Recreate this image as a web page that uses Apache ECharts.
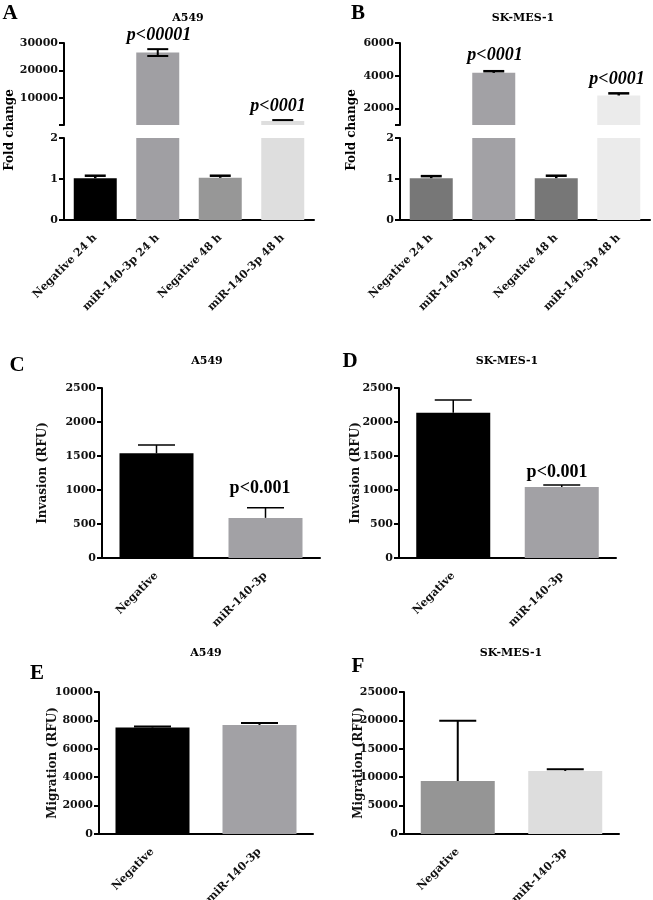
<!DOCTYPE html>
<html><head><meta charset="utf-8">
<script src="https://cdn.jsdelivr.net/npm/echarts@6/dist/echarts.min.js"></script>
<style>html,body{margin:0;padding:0;background:#fff}#c{width:653px;height:900px}</style>
</head><body><div id="c"></div>
<script>
// ---- data ----
const catsFold = ['Negative 24 h', 'miR-140-3p 24 h', 'Negative 48 h', 'miR-140-3p 48 h'];
const catsRFU = ['Negative', 'miR-140-3p'];

const foldA = [1.02, 26500, 1.03, 1500];
const foldAErrUp = [0.06, 1250, 0.05, 300];
const foldAErrDown = [0, 1250, 0, 0];

const foldB = [1.02, 4180, 1.02, 2800];
const foldBErrUp = [0.05, 100, 0.06, 130];
const foldBErrDown = [0, 0, 0, 0];

const invA = [1540, 590];
const invAErr = [120, 150];
const invB = [2135, 1045];
const invBErr = [190, 30];

const migA = [7500, 7680];
const migAErr = [70, 140];
const migB = [9330, 11100];
const migBErr = [10600, 300];

const pA = ['p<00001', 'p<0001'];
const pB = ['p<0001', 'p<0001'];
const pInv = 'p<0.001';

const upperATicks = [0, 10000, 20000, 30000];
const upperALabels = [10000, 20000, 30000];
const upperBTicks = [1000, 2000, 4000, 6000];
const upperBLabels = [2000, 4000, 6000];

// ---- styles ----
const colA = ['#000000', '#a09fa3', '#979797', '#dedede'];
const colB = ['#777777', '#a2a1a5', '#777777', '#ebebeb'];
const colInv = ['#000000', '#a2a1a5'];
const colMigA = ['#000000', '#a2a1a5'];
const colMigB = ['#959595', '#dddddd'];

const SPACED = '"DejaVu Serif", serif';
const TIMES = '"Liberation Serif", "Times New Roman", serif';
const INK = '#111';

const grids = [
  {left: 64, top: 43, width: 250, height: 82},   // 0 A upper
  {left: 64, top: 138, width: 250, height: 82},  // 1 A lower
  {left: 400, top: 43, width: 250, height: 82},  // 2 B upper
  {left: 400, top: 138, width: 250, height: 82}, // 3 B lower
  {left: 102, top: 388, width: 218, height: 170},// 4 C
  {left: 399, top: 388, width: 217, height: 170},// 5 D
  {left: 99, top: 692, width: 214, height: 142}, // 6 E
  {left: 404, top: 692, width: 215, height: 142} // 7 F
].map(g => Object.assign(g, {outerBoundsMode: 'none', containLabel: false}));

function xAx(gi, cats, show) {
  return {
    type: 'category', gridIndex: gi, data: cats, show: show,
    axisLine: {lineStyle: {color: '#000', width: 2}},
    axisTick: {alignWithLabel: true, length: 5, lineStyle: {color: '#000', width: 2}},
    axisLabel: {rotate: 45, interval: 0, margin: 16, fontFamily: SPACED, fontWeight: 'bold', fontSize: 11, color: INK}
  };
}
function yAx(gi, min, max, interval, extra) {
  const o = {
    type: 'value', gridIndex: gi, min: min, max: max, interval: interval,
    nameMoveOverlap: false,
    axisLine: {show: true, lineStyle: {color: '#000', width: 2}},
    axisTick: {show: true, length: 5, lineStyle: {color: '#000', width: 2}},
    splitLine: {show: false},
    axisLabel: {margin: 6, fontFamily: SPACED, fontWeight: 'bold', fontSize: 11, color: INK, formatter: v => String(v)}
  };
  return Object.assign(o, extra || {});
}
function bars(gi, vals, cols, bw) {
  return {
    type: 'bar', xAxisIndex: gi, yAxisIndex: gi, barWidth: bw, silent: true, clip: true,
    data: vals.map((v, i) => ({value: v, itemStyle: {color: cols[i]}}))
  };
}
function errs(gi, vals, up, down, lo, hi, capW, lw) {
  const data = [];
  vals.forEach((v, i) => { if (v > lo && v <= hi) data.push([i, v, up[i], down[i]]); });
  return {
    type: 'custom', xAxisIndex: gi, yAxisIndex: gi, silent: true, z: 5,
    encode: {x: 0, y: 1},
    data: data,
    renderItem: function (params, api) {
      const i = api.value(0), v = api.value(1), u = api.value(2), d = api.value(3);
      const t = api.coord([i, v + u]);
      const b = api.coord([i, v - d]);
      const st = {stroke: '#000', lineWidth: lw};
      const ch = [
        {type: 'line', shape: {x1: t[0], y1: t[1], x2: t[0], y2: b[1]}, style: st},
        {type: 'line', shape: {x1: t[0] - capW / 2, y1: t[1], x2: t[0] + capW / 2, y2: t[1]}, style: st}
      ];
      if (d > 0) ch.push({type: 'line', shape: {x1: b[0] - capW / 2, y1: b[1], x2: b[0] + capW / 2, y2: b[1]}, style: st});
      return {type: 'group', children: ch};
    }
  };
}
const zeroArr = [0, 0];

const nameStyle = {fontFamily: SPACED, fontWeight: 'bold', fontSize: 12, color: INK};
const xAxis = [
  xAx(0, catsFold, false), xAx(1, catsFold, true),
  xAx(2, catsFold, false), xAx(3, catsFold, true),
  xAx(4, catsRFU, true), xAx(5, catsRFU, true),
  xAx(6, catsRFU, true), xAx(7, catsRFU, true)
];
const yAxis = [
  yAx(0, upperATicks[0], upperATicks[upperATicks.length - 1], 10000, {}),
  yAx(1, 0, 2, 1),
  yAx(2, upperBTicks[0], upperBTicks[upperBTicks.length - 1], 1000, {}),
  yAx(3, 0, 2, 1),
  yAx(4, 0, 2500, 500, {name: 'Invasion (RFU)', nameLocation: 'middle', nameRotate: 90, nameGap: 53, nameTextStyle: nameStyle}),
  yAx(5, 0, 2500, 500, {name: 'Invasion (RFU)', nameLocation: 'middle', nameRotate: 90, nameGap: 37, nameTextStyle: nameStyle}),
  yAx(6, 0, 10000, 2000, {name: 'Migration (RFU)', nameLocation: 'middle', nameRotate: 90, nameGap: 40, nameTextStyle: nameStyle}),
  yAx(7, 0, 25000, 5000, {name: 'Migration (RFU)', nameLocation: 'middle', nameRotate: 90, nameGap: 39, nameTextStyle: nameStyle})
];
// custom ticks for broken upper segments
yAxis[0].axisTick.customValues = upperATicks;
yAxis[0].axisLabel.customValues = upperALabels;
yAxis[2].axisTick.customValues = upperBTicks;
yAxis[2].axisLabel.customValues = upperBLabels;

const series = [
  bars(0, foldA, colA, 43), bars(1, foldA, colA, 43),
  bars(2, foldB, colB, 43), bars(3, foldB, colB, 43),
  bars(4, invA, colInv, 74), bars(5, invB, colInv, 74),
  bars(6, migA, colMigA, 74), bars(7, migB, colMigB, 74),
  errs(0, foldA, foldAErrUp, foldAErrDown, 2, 30000, 21, 2),
  errs(1, foldA, foldAErrUp, foldAErrDown, 0, 2, 21, 2.5),
  errs(2, foldB, foldBErrUp, foldBErrDown, 2, 6000, 21, 2.5),
  errs(3, foldB, foldBErrUp, foldBErrDown, 0, 2, 21, 2.5),
  errs(4, invA, invAErr, zeroArr, 0, 2500, 37, 1.5),
  errs(5, invB, invBErr, zeroArr, 0, 2500, 37, 1.5),
  errs(6, migA, migAErr, zeroArr, 0, 10000, 37, 2),
  errs(7, migB, migBErr, zeroArr, 0, 25000, 37, 2)
];

function txt(x, y, s, font, extra) {
  return Object.assign({type: 'text', x: x, y: y, silent: true,
    style: {text: s, font: font, fill: '#000', align: 'center', verticalAlign: 'middle'}}, extra || {});
}
const letterFont = 'bold 21px ' + TIMES;
const titleFont = 'bold 11px ' + SPACED;
const pItal = 'italic bold 18px ' + TIMES;
const pBold = 'bold 18px ' + TIMES;
const axTitleFont = 'bold 12px ' + SPACED;

const graphic = [
  txt(10, 14, 'A', letterFont), txt(358, 14, 'B', letterFont),
  txt(17, 366, 'C', letterFont), txt(350, 362, 'D', letterFont),
  txt(37, 674, 'E', letterFont), txt(358, 667, 'F', letterFont),
  txt(188, 18, 'A549', titleFont), txt(523, 18, 'SK-MES-1', titleFont),
  txt(207, 361, 'A549', titleFont), txt(507, 361, 'SK-MES-1', titleFont),
  txt(206, 653, 'A549', titleFont), txt(511, 653, 'SK-MES-1', titleFont),
  txt(159, 35, pA[0], pItal), txt(278, 106, pA[1], pItal),
  txt(495, 55, pB[0], pItal), txt(617, 79, pB[1], pItal),
  txt(260, 488, pInv, pBold), txt(557, 472, pInv, pBold),
  txt(10, 130, 'Fold change', axTitleFont, {rotation: Math.PI / 2}),
  txt(352, 130, 'Fold change', axTitleFont, {rotation: Math.PI / 2})
];

const chart = echarts.init(document.getElementById('c'), null, {renderer: 'canvas'});
chart.setOption({
  animation: false,
  backgroundColor: '#fff',
  grid: grids,
  xAxis: xAxis,
  yAxis: yAxis,
  series: series,
  graphic: graphic
});
</script>
</body></html>
